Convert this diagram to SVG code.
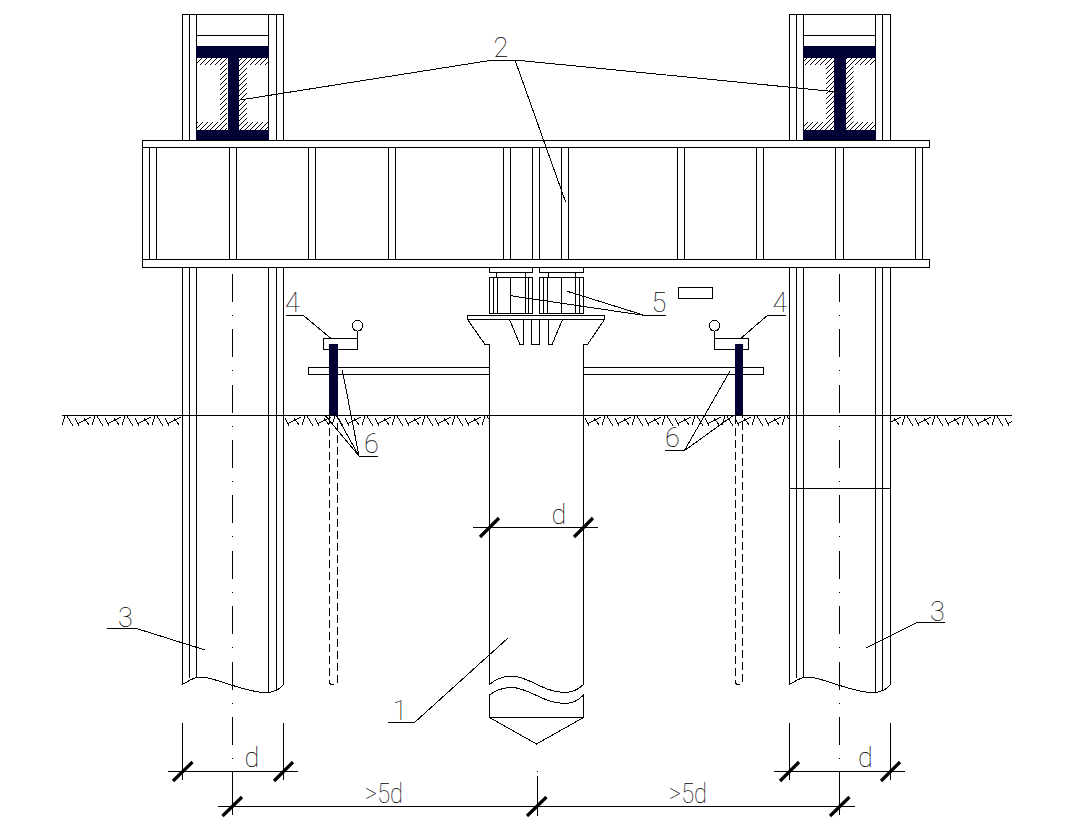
<svg xmlns="http://www.w3.org/2000/svg" width="1083" height="838" viewBox="0 0 1083 838">
<style>
.l{fill:none;stroke:#000;stroke-width:1;shape-rendering:crispEdges}
.k{fill:#fff;stroke:#000;stroke-width:1;shape-rendering:crispEdges}
.d{fill:#000033;stroke:none;shape-rendering:crispEdges}
.t{stroke:#000;stroke-width:3.2;fill:none}
.c{stroke-dasharray:28 13 1 13.4}
.h{stroke-dasharray:8 4}
text{font-family:Roboto,"Liberation Sans",sans-serif;font-weight:100;font-size:27px;fill:#000;text-anchor:middle}
</style>
<defs>
<pattern id="hatch" width="5" height="5" patternUnits="userSpaceOnUse">
<path d="M-1 6L6 -1M-1 1L1 -1M4 6L6 4" fill="none" stroke="#000" stroke-width="1"/>
</pattern>
<pattern id="soil" x="62" y="415" width="30" height="13" patternUnits="userSpaceOnUse">
<path d="M0 10L3 1M5 1L11 11M13 3L17 11M15 9L29 2M22 3L27 10" fill="none" stroke="#000" stroke-width="1" shape-rendering="crispEdges"/>
</pattern>
</defs>
<rect width="1083" height="838" fill="#fff"/>

<g id="ground">
<rect x="62" y="415" width="120" height="13" fill="url(#soil)"/>
<rect x="284" y="415" width="205" height="13" fill="url(#soil)"/>
<rect x="584" y="415" width="205" height="13" fill="url(#soil)"/>
<rect x="891" y="415" width="121" height="13" fill="url(#soil)"/>
</g>

<g id="column-left">
<path class="l" d="M182.500 140V14.500H283.500V140M189.500 14.500V140M196.500 14.500V140M268.500 14.500V140M276 14.500V140M196.500 35.500H268.500"/>
<path fill="url(#hatch)" d="M196.500 57H227V130H196.500V122H220V65H196.500Z"/>
<path fill="url(#hatch)" d="M268.500 57H239V130H268.500V122H247V65H268.500Z"/>
<path class="d" d="M196 46H269V57.500H239V130H269V140.500H196V130H227.500V57.500H196Z"/>
<path class="l" d="M182.500 267V684.500M189.500 267V678M196.500 267V677M268.500 267V692M276 267V691M283.500 267V684.500"/>
<path class="l" d="M182.500 684.500C190 680 194 677 200 677C216 677 242 692 265 692.500C275 692.500 281 688 283.500 684.500"/>
</g>

<g id="column-right">
<path class="l" d="M789.500 140V14.500H890.500V140M796.500 14.500V140M803.500 14.500V140M875.500 14.500V140M882.500 14.500V140M803.500 35.500H875.500"/>
<path fill="url(#hatch)" d="M803.500 57H834V130H803.500V122H826V65H803.500Z"/>
<path fill="url(#hatch)" d="M875.500 57H846V130H875.500V122H853.500V65H875.500Z"/>
<path class="d" d="M803 46H876V57.500H846V130H876V140.500H803V130H834V57.500H803Z"/>
<path class="l" d="M789.500 267V684.500M796.500 267V678M803.500 267V677M875.500 267V692M882.500 267V691M890.500 267V684.500M789.500 488.500H890.500"/>
<path class="l" d="M789.500 684.500C797 680 801 677 807 677C823 677 849 692 872 692.500C882 692.500 888 688 890.500 684.500"/>
</g>

<g id="beam">
<rect class="k" x="142.500" y="140.500" width="787" height="7"/>
<rect class="k" x="142.500" y="259.500" width="787" height="8"/>
<path class="l" d="M142.500 147.500V259.500M149.500 147.500V259.500M156.500 147.500V259.500M229.500 147.500V259.500M236.500 147.500V259.500M308.500 147.500V259.500M315.500 147.500V259.500M388.500 147.500V259.500M395.500 147.500V259.500M503.500 147.500V259.500M510.500 147.500V259.500M532.500 147.500V259.500M539.500 147.500V259.500M561.500 147.500V259.500M568.500 147.500V259.500M677.500 147.500V259.500M684.500 147.500V259.500M756.500 147.500V259.500M763.500 147.500V259.500M835.500 147.500V259.500M843.500 147.500V259.500M915.500 147.500V259.500M922.500 147.500V259.500"/>
</g>

<g id="jacks">
<path class="l" d="M489.500 267.500V272.500H532.500V267.500M539.500 267.500V272.500H583.500V267.500M496.500 272.500V277.500M525.500 272.500V277.500M548.500 272.500V277.500M575.500 272.500V277.500"/>
<rect class="l" x="489.500" y="277.500" width="43" height="36"/>
<rect class="l" x="539.500" y="277.500" width="44" height="36"/>
<path class="l" d="M493.500 277.500V313.500M497.500 277.500V313.500M510.500 277.500V313.500M525.500 277.500V313.500M528.500 277.500V313.500M543.500 277.500V313.500M547.500 277.500V313.500M561.500 277.500V313.500M575.500 277.500V313.500M579.500 277.500V313.500"/>
</g>

<rect id="small-plate" class="l" x="678.500" y="287.500" width="34" height="11"/>

<g id="pile">
<rect class="l" x="467.500" y="315.500" width="137" height="4"/>
<path class="l" d="M467.500 319.500L485 344.500H489.500V684.500M604.500 319.500L587.500 344.500H583.500V684.500"/>
<path class="l" d="M509.500 319.500L520 344.500H523.500V319.500M531.500 319.500V344.500H539.500V319.500M548.500 319.500V344.500H552L562.500 319.500"/>
<path class="l" d="M489.500 684.500C496 679 504 676 512 676C528 676 543 692 564 692.500C572 692.500 579 689 583.500 684.500"/>
<path class="l" d="M489.500 695C496 690 504 687.500 512 687.500C528 687.500 543 703 564 703.500C572 703.500 579 700 583.500 695V717.500L536.500 744L489.500 717.500V695M489.500 717.500H583.500"/>
</g>

<g id="plate-left"><path class="l" d="M489.500 367.500H308.500V374.500H489.500"/></g>
<g id="plate-right"><path class="l" d="M583.500 367.500H763.500V374.500H583.500"/></g>

<g id="gauge-left">
<rect class="k" x="323.500" y="338.500" width="34" height="11"/>
<path class="l" d="M357.500 338.500V331"/>
<circle class="l" cx="357.500" cy="325.700" r="5.300"/>
<rect class="d" x="329" y="344" width="9" height="71"/>
<path class="l h" d="M329.500 416V682C329.500 686 337.500 686 337.500 682V416"/>
</g>
<g id="gauge-right">
<rect class="k" x="714.500" y="338.500" width="34" height="11"/>
<path class="l" d="M714.500 338.500V331"/>
<circle class="l" cx="714.500" cy="325.700" r="5.300"/>
<rect class="d" x="735" y="344" width="8" height="71"/>
<path class="l h" d="M735.500 416V682C735.500 686 742.500 686 742.500 682V416"/>
</g>

<path id="ground-line" class="l" d="M62 415.500H1012"/>

<g id="centerlines">
<path class="l c" d="M232.500 273.800V771"/>
<path class="l c" d="M839.500 273.800V771"/>
</g>

<g id="dimensions">
<path class="l" d="M232.500 771V815M839.500 771V815M537 776V816M537 770.500V771.500"/>
<path class="l" d="M182.500 723V780M283.500 723V780M789.500 723V780M890.500 723V780"/>
<path class="l" d="M167.500 771.500H298M774 771.500H905M218 806.500H855M473 527.500H598"/>
<path class="t" d="M173 781L192.500 762M274 781L293 762M780 781L799 762M881 781L900 762M222.500 816L242 797M527 816L546.500 797M830 816L849.500 797M480 537L499 518M574 537L593 518"/>
<text x="252" y="767">d</text>
<text x="865.500" y="767">d</text>
<text x="559" y="524">d</text>
<text x="384" y="803" textLength="38" lengthAdjust="spacingAndGlyphs">&gt;5d</text>
<text x="688" y="803" textLength="38" lengthAdjust="spacingAndGlyphs">&gt;5d</text>
</g>

<g id="connectors">
<path class="l" d="M240 100L493 60H515L838 92M515 60L565.700 202.300"/>
<path class="l" d="M510.500 295.700L645 315.500M567.300 291.300L645 315.500H666"/>
<path class="l" d="M286 315.500H303.500L331 338.500M740.700 338.500L767.300 315.500H786"/>
<path class="l" d="M342.300 370L359 456M325.700 416L359 456M336.700 416L359 456H378"/>
<path class="l" d="M730 371L684.500 450.500M733.300 415.500L684.500 450.500H665"/>
<path class="l" d="M107 628H135L205 650M866 648L918 622H945M388 722H415L508 638"/>
</g>

<g id="labels">
<text x="501" y="57">2</text>
<text x="659" y="312">5</text>
<text x="292.500" y="312">4</text>
<text x="780" y="312">4</text>
<text x="371.500" y="453">6</text>
<text x="672.500" y="447">6</text>
<text x="125.500" y="627">3</text>
<text x="937.500" y="621">3</text>
<text x="400" y="720">1</text>
</g>
</svg>
